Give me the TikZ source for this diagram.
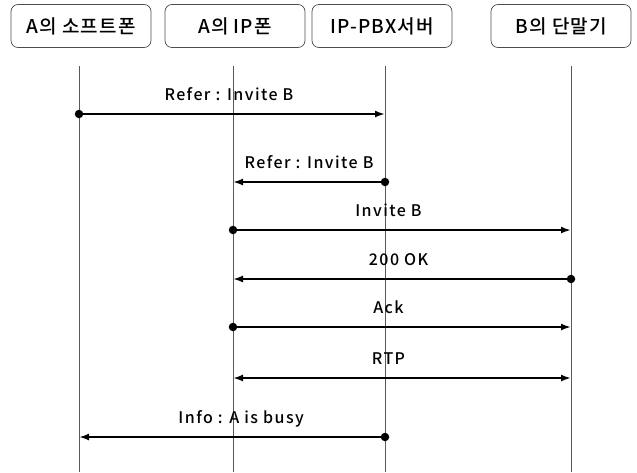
\documentclass[tikz,border=0pt]{standalone}
\usepackage{fontspec}
\newfontfamily\krfont{Noto Sans CJK KR Medium}[LetterSpace=6]
\newfontfamily\krmsgfont{Noto Sans CJK KR Medium}[LetterSpace=9]
\usetikzlibrary{arrows.meta}

\tikzset{
  actor/.style={draw=black!70, line width=0.7pt, rounded corners=7pt,
    minimum width=140pt, minimum height=43pt, inner sep=0pt,
    font=\krfont\fontsize{19}{22}\selectfont},
  lifeline/.style={draw=black!65, line width=0.6pt},
  msg/.style={line width=2.8pt, -{Latex[length=10pt,width=7pt]}},
  both/.style={line width=2.8pt, {Latex[length=10pt,width=7pt]}-{Latex[length=10pt,width=7pt]}},
  msgtext/.style={font=\krmsgfont\fontsize{16}{19}\selectfont, text depth=0pt, inner sep=0pt, above=12pt},
  startdot/.style={circle, fill=black, inner sep=0pt, minimum size=8.5pt}
}

\begin{document}
\begin{tikzpicture}[x=1pt, y=-1pt]
			\useasboundingbox (0,0) rectangle (637,472);
			% boxes
			\node[actor] (soft) at (81,26) {A의 소프트폰};
			\node[actor] (ipphone) at (235,26) {A의 IP폰};
			\node[actor] (pbx) at (382,26) {IP-PBX서버};
			\node[actor] (term) at (561,26) {B의 단말기};
			% lifelines
			\coordinate (lsoft) at (79,66);
			\coordinate (lip) at (233,66);
			\coordinate (lpbx) at (385,66);
			\coordinate (lterm) at (571,66);
			\coordinate (bottom) at (0,472);
			\foreach \l in {lsoft,lip,lpbx,lterm}
				\draw[lifeline] (\l) -- (\l |- bottom);
			% message levels
			\coordinate (m1) at (0,114);
			\coordinate (m2) at (0,182);
			\coordinate (m3) at (0,230);
			\coordinate (m4) at (0,279);
			\coordinate (m5) at (0,327);
			\coordinate (m6) at (0,378);
			\coordinate (m7) at (0,437);
			\draw[msg] (lsoft |- m1) node[startdot]{} --node[msgtext, pos=0.49]{Refer : Invite B} (lpbx |- m1);
			\draw[msg] (lpbx |- m2) node[startdot]{} --node[msgtext, pos=0.5]{Refer : Invite B} (lip |- m2);
			\draw[msg] (lip |- m3) node[startdot]{} --node[msgtext, pos=0.46]{Invite B} (lterm |- m3);
			\draw[msg] (lterm |- m4) node[startdot]{} --node[msgtext, pos=0.51]{200 OK} (lip |- m4);
			\draw[msg] (lip |- m5) node[startdot]{} --node[msgtext, pos=0.46]{Ack} (lterm |- m5);
			\draw[both] (lip |- m6) --node[msgtext, pos=0.46]{RTP} (lterm |- m6);
			\draw[msg] (lpbx |- m7) node[startdot]{} --node[msgtext, pos=0.47]{Info : A is busy} (lsoft |- m7);
		\end{tikzpicture}
\end{document}
